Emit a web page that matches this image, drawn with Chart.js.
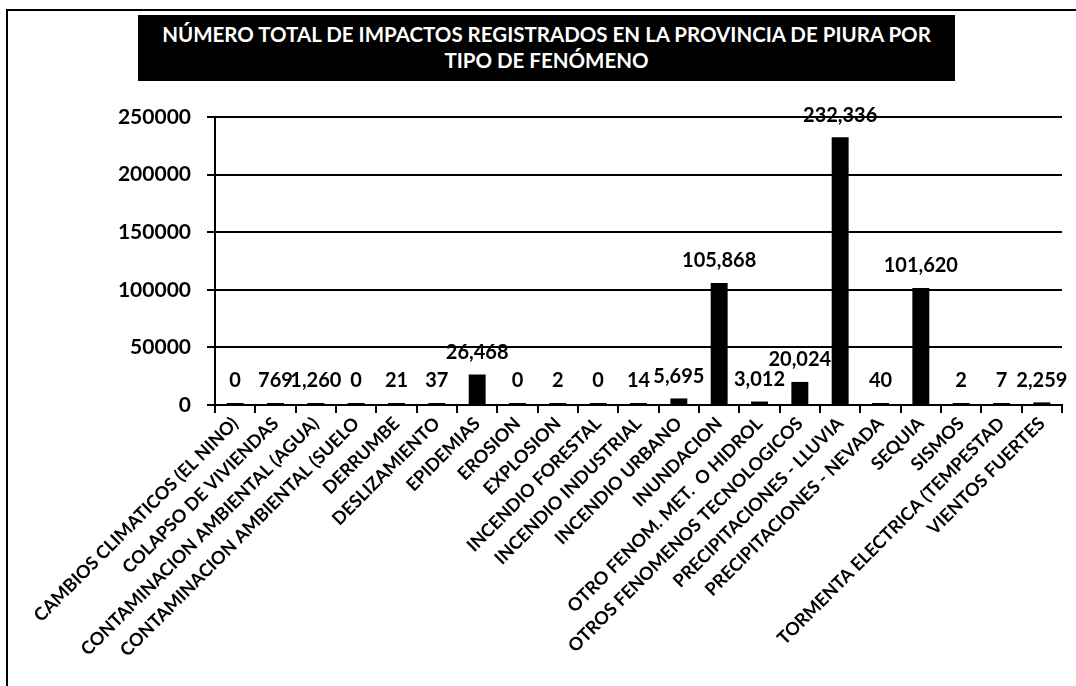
<!DOCTYPE html>
<html>
<head>
<meta charset="utf-8">
<script src="https://cdn.jsdelivr.net/npm/chart.js@4"></script>
<style>
  html, body { margin: 0; padding: 0; background: #fff; }
  #wrap { position: relative; width: 1076px; height: 686px; overflow: hidden; }
  #frame {
    position: absolute; left: 6px; top: 9px; width: 1080px; height: 676px;
    border-left: 2px solid #000; border-top: 2px solid #000;
  }
  #title {
    position: absolute; left: 138px; top: 15px; width: 817px; height: 66px;
    background: #000; color: #fff; text-align: center;
    font-family: Lato, sans-serif; font-weight: 700; font-size: 20.5px; line-height: 26px;
    padding-top: 6px; box-sizing: border-box;
  }
  canvas { position: absolute; left: 0; top: 0; }
</style>
</head>
<body>
<div id="wrap">
  <canvas id="impactosChart" width="1076" height="686"></canvas>
  <div id="frame"></div>
  <div id="title">NÚMERO TOTAL DE IMPACTOS REGISTRADOS EN LA PROVINCIA DE PIURA POR<br>TIPO DE FENÓMENO</div>
</div>
<script>
  // Datos
  const fenomenos = [
    'CAMBIOS CLIMATICOS (EL NINO)',
    'COLAPSO DE VIVIENDAS',
    'CONTAMINACION AMBIENTAL (AGUA)',
    'CONTAMINACION AMBIENTAL (SUELO',
    'DERRUMBE',
    'DESLIZAMIENTO',
    'EPIDEMIAS',
    'EROSION',
    'EXPLOSION',
    'INCENDIO FORESTAL',
    'INCENDIO INDUSTRIAL',
    'INCENDIO URBANO',
    'INUNDACION',
    'OTRO FENOM. MET.  O HIDROL',
    'OTROS FENOMENOS TECNOLOGICOS',
    'PRECIPITACIONES - LLUVIA',
    'PRECIPITACIONES - NEVADA',
    'SEQUIA',
    'SISMOS',
    'TORMENTA ELECTRICA (TEMPESTAD',
    'VIENTOS FUERTES'
  ];
  const impactos = [0, 769, 1260, 0, 21, 37, 26468, 0, 2, 0, 14, 5695, 105868, 3012, 20024, 232336, 40, 101620, 2, 7, 2259];
  const yTicks = [0, 50000, 100000, 150000, 200000, 250000];

  const fontName = 'Lato, sans-serif';

  // etiquetas de valor encima de cada barra
  const valueLabels = {
    id: 'valueLabels',
    afterDatasetsDraw(chart) {
      const ctx = chart.ctx;
      const meta = chart.getDatasetMeta(0);
      ctx.save();
      ctx.font = 'bold 20px ' + fontName;
      ctx.fillStyle = '#000';
      ctx.textAlign = 'center';
      ctx.textBaseline = 'middle';
      meta.data.forEach((bar, i) => {
        ctx.fillText(impactos[i].toLocaleString('en-US'), bar.x, bar.y - 22);
      });
      ctx.restore();
    }
  };

  const whiteBg = {
    id: 'whiteBg',
    beforeDraw(chart) {
      const ctx = chart.ctx;
      ctx.save();
      ctx.fillStyle = '#fff';
      ctx.fillRect(0, 0, chart.width, chart.height);
      ctx.restore();
    }
  };

  new Chart(document.getElementById('impactosChart'), {
    type: 'bar',
    data: {
      labels: fenomenos,
      datasets: [{
        data: impactos,
        backgroundColor: '#000',
        borderWidth: 0,
        barPercentage: 0.42,
        categoryPercentage: 1,
        minBarLength: 2
      }]
    },
    options: {
      responsive: false,
      animation: false,
      layout: { padding: { top: 117, right: 14, left: 0, bottom: 0 } },
      plugins: {
        legend: { display: false },
        tooltip: { enabled: false }
      },
      scales: {
        y: {
          min: 0,
          max: 250000,
          afterBuildTicks(scale) {
            scale.ticks = yTicks.map(v => ({ value: v }));
          },
          afterFit(scale) { scale.width = 215; },
          ticks: {
            color: '#000',
            font: { family: fontName, weight: 'bold', size: 21 },
            padding: 16,
            callback: v => String(v)
          },
          grid: { color: '#000', lineWidth: 2, tickLength: 8 },
          border: { color: '#000', width: 2 }
        },
        x: {
          afterFit(scale) { scale.height = 686 - 405; },
          ticks: {
            color: '#000',
            font: { family: fontName, weight: 'bold', size: 18 },
            autoSkip: false,
            maxRotation: 45,
            minRotation: 45,
            padding: 0
          },
          grid: { drawOnChartArea: false, color: '#000', lineWidth: 2, tickLength: 8 },
          border: { color: '#000', width: 2 }
        }
      }
    },
    plugins: [whiteBg, valueLabels]
  });
</script>
</body>
</html>
